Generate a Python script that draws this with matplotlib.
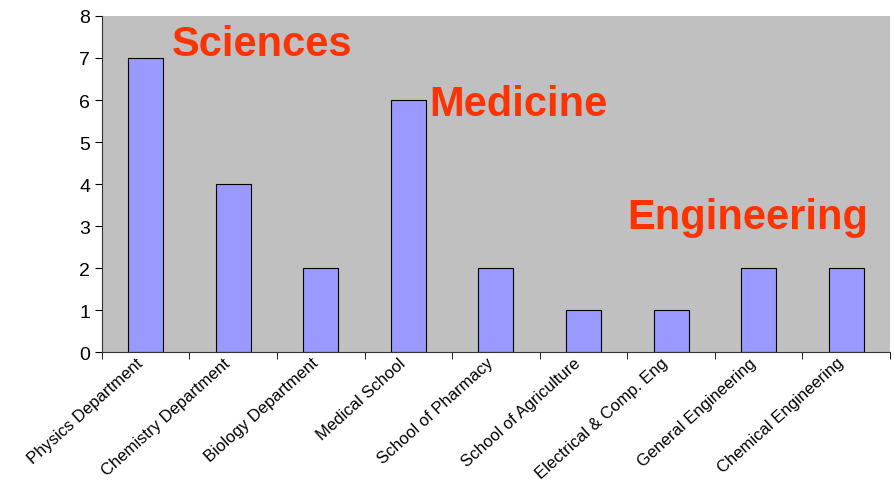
import matplotlib.pyplot as plt
import matplotlib.transforms as mtransforms
import numpy as np

departments = ["Physics Department", "Chemistry Department", "Biology Department",
               "Medical School", "School of Pharmacy", "School of Agriculture",
               "Electrical & Comp. Eng", "General Engineering", "Chemical Engineering"]
counts = [7, 4, 2, 6, 2, 1, 1, 2, 2]

groups = ["Sciences", "Medicine", "Engineering"]
group_x = [0.3, 3.24, 5.5]
group_y = [7.33, 5.9, 3.21]

plt.rcParams['font.family'] = ['Liberation Sans', 'DejaVu Sans']

fig = plt.figure(figsize=(8.94, 4.85), dpi=100)
ax = fig.add_axes([0.114, 0.272, 0.8815, 0.693])
ax.set_facecolor('#C0C0C0')

x = np.arange(len(departments))
ax.bar(x, counts, width=0.4, color='#9999FF', edgecolor='black', linewidth=0.8, zorder=2)

ax.set_xlim(-0.5, len(departments) - 0.5)
ax.set_ylim(0, 8)
ax.set_yticks(range(0, 9))
ax.tick_params(axis='y', labelsize=14, length=5, direction='out')

# category boundaries get the tick marks, labels sit under each bar
ax.set_xticks(x)
ax.set_xticklabels(departments, rotation=42, ha='right', va='center',
                   rotation_mode='anchor', fontsize=12)
ax.tick_params(axis='x', which='major', length=0, pad=6)
ax.set_xticks(np.arange(-0.5, len(departments)), minor=True)
ax.tick_params(axis='x', which='minor', length=5)
offset = mtransforms.ScaledTranslation(-0.05, 0, fig.dpi_scale_trans)
for lbl in ax.get_xticklabels():
    lbl.set_transform(lbl.get_transform() + offset)

for sp in ['top', 'right']:
    ax.spines[sp].set_visible(False)
ax.spines['left'].set_color('#333333')
ax.spines['bottom'].set_color('#333333')

for name, gx, gy in zip(groups, group_x, group_y):
    ax.text(gx, gy, name, color='#FF3300', fontsize=30, fontweight='bold',
            ha='left', va='center', zorder=3)

fig.savefig('out.png', dpi=100)
